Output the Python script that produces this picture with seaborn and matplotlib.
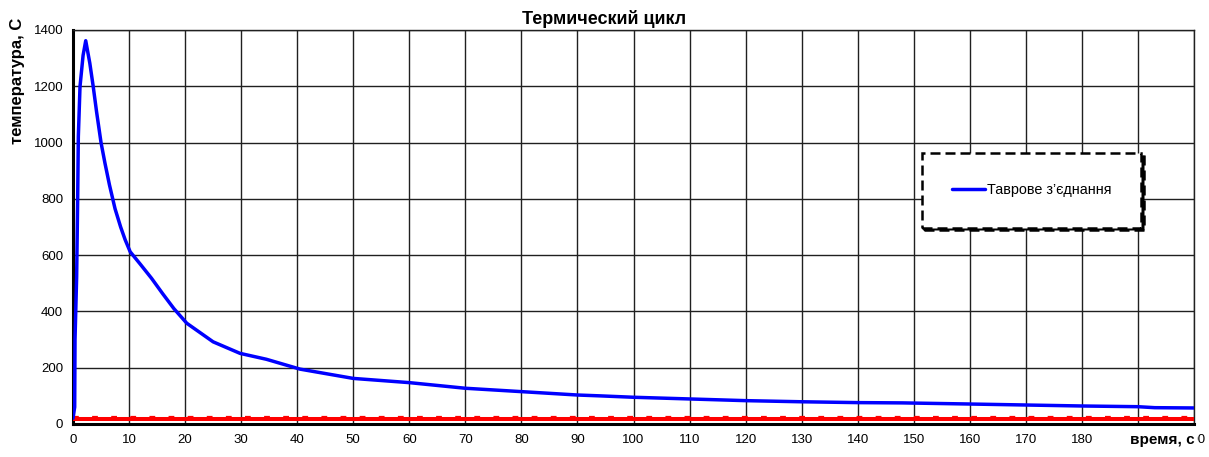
import numpy as np
import pandas as pd
import matplotlib
matplotlib.use("Agg")
import matplotlib.pyplot as plt
import seaborn as sns

# blue curve: T-joint thermal cycle
time_s = [0, 0.3, 0.36, 0.65, 0.83, 0.95, 1.25, 1.8, 2.27, 3.0, 3.6, 4.2, 5.0,
          5.7, 6.5, 7.5, 8.5, 9.3, 10.2, 12, 14, 16, 18, 20.3, 25, 29.8,
          34.5, 40.5, 50, 60, 70, 80, 90, 94, 100, 110, 120, 130, 140, 148,
          160, 170, 180, 190, 193, 200]
temp_c = [20, 60, 300, 523, 796, 1021, 1199, 1310, 1362, 1282, 1200, 1110, 1000,
          927, 850, 765, 700, 655, 612, 568, 518, 463, 410, 358, 292, 251,
          230, 195, 162, 147, 127, 115, 103, 100, 95, 89, 83, 79, 76, 75,
          71, 67.5, 64, 61.5, 58, 57]

# red base-line series
red_time = [0, 200]
red_solid = [17, 17]
red_dash = [25, 25]

legend_label = "Таврове з’єднання"
title = "Термический цикл"
xlabel = "время, с"
ylabel = "температура, C"
x_ticks = list(range(0, 201, 10))
y_ticks = list(range(0, 1401, 200))

sns.set_style("white", rc={"text.color": "black", "axes.labelcolor": "black",
                           "xtick.color": "black", "ytick.color": "black"})
plt.rcParams["font.family"] = ["Liberation Sans", "DejaVu Sans"]

fig = plt.figure(figsize=(12.09, 4.57), dpi=100)
ax = fig.add_axes([73 / 1209, 33 / 457, 1121 / 1209, 394 / 457])

df = pd.DataFrame({"t": time_s, "T": temp_c})
sns.lineplot(data=df, x="t", y="T", ax=ax, color="#0000ff", lw=2.5,
             label=legend_label, zorder=4, sort=False)
sns.lineplot(x=red_time, y=red_solid, ax=ax, color="#ff0000", lw=2.9, zorder=3)
sns.lineplot(x=red_time, y=red_dash, ax=ax, color="#ff0000", lw=1.6, zorder=3)
ax.lines[-1].set_dashes((2.6, 6))

ax.set_xlim(0, 200)
ax.set_ylim(0, 1400)
ax.set_xticks(x_ticks)
ax.set_yticks(y_ticks)
ax.set_xticks(range(0, 201, 5), minor=True)
ax.set_yticks(range(0, 1401, 100), minor=True)
ax.grid(True, which="major", color="#202020", lw=1.0)
ax.tick_params(which="major", direction="inout", length=8, width=2,
               labelsize=9.5, pad=3)
ax.tick_params(which="minor", direction="inout", length=6, width=2)
for s in ["left", "bottom"]:
    ax.spines[s].set_linewidth(2.2)
    ax.spines[s].set_color("black")
for s in ["top", "right"]:
    ax.spines[s].set_linewidth(1.0)
    ax.spines[s].set_color("#202020")

ax.set_title(title, fontsize=13, fontweight="bold", pad=4, x=0.474)
ax.set_ylabel(ylabel, fontsize=12, fontweight="bold")
ax.yaxis.set_label_coords(-0.043, 0.87)
ax.set_xlabel(xlabel, fontsize=11, fontweight="bold",
              bbox=dict(facecolor="white", edgecolor="none", pad=1.5))
ax.xaxis.set_label_coords(0.972, -0.022)

leg = ax.legend(loc="upper left", bbox_to_anchor=(0.757, 0.688),
                fontsize=10.4, frameon=True, fancybox=False, borderpad=2.1,
                handlelength=2.3, handletextpad=0.1, borderaxespad=0,
                shadow={"ox": 1.5, "oy": -1.5, "color": "black", "alpha": 1})
frame = leg.get_frame()
frame.set_edgecolor("black")
frame.set_linestyle((0, (4, 2)))
frame.set_linewidth(1.8)
frame.set_facecolor("white")
frame.set_alpha(1)

fig.savefig("out.png", dpi=100)
